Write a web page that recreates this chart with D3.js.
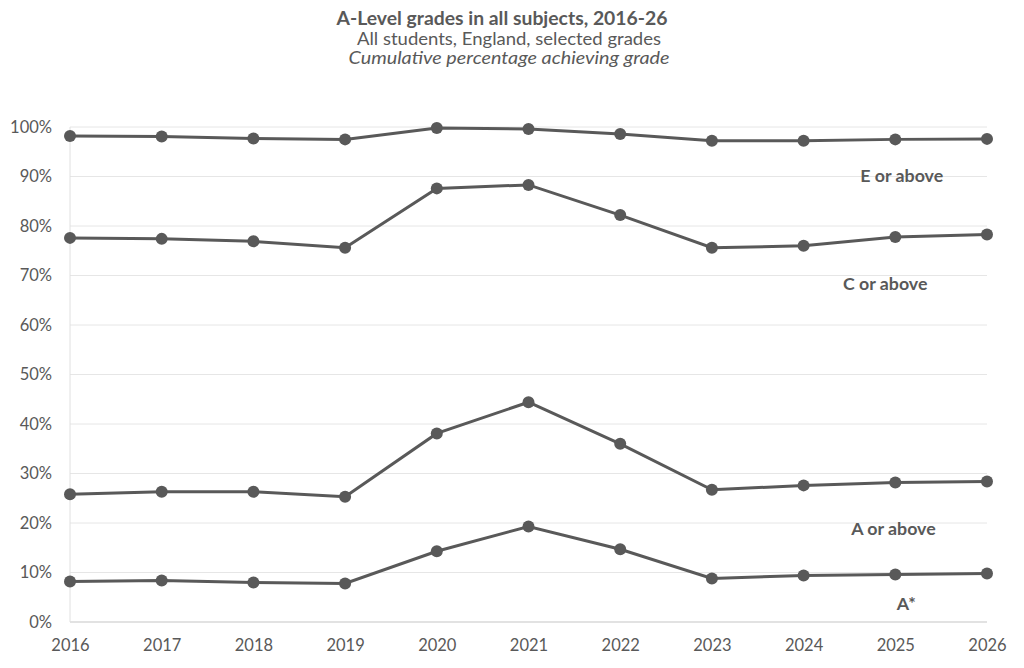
<!DOCTYPE html>
<html>
<head>
<meta charset="utf-8">
<script src="https://cdn.jsdelivr.net/npm/d3@7"></script>
<style>
  body { margin: 0; background: #fff; }
  text { font-family: Lato, "Open Sans", sans-serif; fill: #595959; }
</style>
</head>
<body>
<div id="chart"></div>
<script>
const years = [2016, 2017, 2018, 2019, 2020, 2021, 2022, 2023, 2024, 2025, 2026];
const eOrAbove = [98.2, 98.1, 97.7, 97.5, 99.8, 99.6, 98.6, 97.2, 97.2, 97.5, 97.6];
const cOrAbove = [77.6, 77.4, 76.9, 75.6, 87.6, 88.3, 82.2, 75.6, 76.0, 77.8, 78.3];
const aOrAbove = [25.8, 26.3, 26.3, 25.3, 38.1, 44.4, 36.0, 26.7, 27.6, 28.2, 28.4];
const aStar = [8.2, 8.4, 8.0, 7.8, 14.3, 19.3, 14.7, 8.8, 9.4, 9.6, 9.8];
const yTicks = [0, 10, 20, 30, 40, 50, 60, 70, 80, 90, 100];

const series = [
  { name: 'E or above', values: eOrAbove, labelAt: [2025.07, 90.4] },
  { name: 'C or above', values: cOrAbove, labelAt: [2024.89, 68.5] },
  { name: 'A or above', values: aOrAbove, labelAt: [2024.98, 18.9] },
  { name: 'A*', values: aStar, labelAt: [2025.12, 3.8] }
];

const width = 1024;
const height = 668;
const margin = { top: 127, right: 37, bottom: 46, left: 70 };
const color = '#595959';

const svg = d3.select('#chart')
  .append('svg')
  .attr('width', width)
  .attr('height', height);

const x = d3.scaleLinear()
  .domain([2016, 2026])
  .range([margin.left, width - margin.right]);

const y = d3.scaleLinear()
  .domain([0, 100])
  .range([height - margin.bottom, margin.top]);

// gridlines
svg.append('g')
  .selectAll('line')
  .data(yTicks)
  .join('line')
    .attr('x1', x(2016))
    .attr('x2', x(2026))
    .attr('y1', d => y(d))
    .attr('y2', d => y(d))
    .attr('stroke', d => d === 0 ? '#d9d9d9' : '#e6e6e6')
    .attr('stroke-width', d => d === 0 ? 1.5 : 1);

// left axis line
svg.append('line')
  .attr('x1', x(2016)).attr('x2', x(2016))
  .attr('y1', y(0)).attr('y2', y(100))
  .attr('stroke', '#e0e0e0');

// y labels
svg.append('g')
  .attr('transform', `translate(${margin.left},0)`)
  .call(d3.axisLeft(y).tickValues(yTicks).tickFormat(d => d + '%').tickSize(0).tickPadding(18))
  .call(g => g.select('.domain').remove())
  .selectAll('text')
    .attr('font-size', '16.5px')
    .attr('fill', color);

// x labels
svg.append('g')
  .attr('transform', `translate(0,${y(0)})`)
  .call(d3.axisBottom(x).tickValues(years).tickFormat(d3.format('d')).tickSize(0).tickPadding(17))
  .call(g => g.select('.domain').remove())
  .selectAll('text')
    .attr('font-size', '16.5px')
    .attr('fill', color);

const line = d3.line()
  .x((d, i) => x(years[i]))
  .y(d => y(d));

const groups = svg.append('g')
  .selectAll('g')
  .data(series)
  .join('g');

groups.append('path')
  .attr('d', d => line(d.values))
  .attr('fill', 'none')
  .attr('stroke', color)
  .attr('stroke-width', 3);

groups.selectAll('circle')
  .data(d => d.values)
  .join('circle')
    .attr('cx', (d, i) => x(years[i]))
    .attr('cy', d => y(d))
    .attr('r', 6)
    .attr('fill', color);

groups.append('text')
  .attr('x', d => x(d.labelAt[0]))
  .attr('y', d => y(d.labelAt[1]))
  .attr('text-anchor', 'middle')
  .attr('dominant-baseline', 'central')
  .attr('font-size', '17.8px')
  .attr('font-weight', 'bold')
  .text(d => d.name);

// titles
svg.append('text')
  .attr('x', 502).attr('y', 25)
  .attr('text-anchor', 'middle')
  .attr('font-size', '19px')
  .attr('font-weight', 'bold')
  .attr('textLength', 331)
  .attr('lengthAdjust', 'spacingAndGlyphs')
  .text('A-Level grades in all subjects, 2016-26');

svg.append('text')
  .attr('x', 509).attr('y', 45)
  .attr('text-anchor', 'middle')
  .attr('font-size', '16.5px')
  .attr('textLength', 304)
  .attr('lengthAdjust', 'spacingAndGlyphs')
  .text('All students, England, selected grades');

svg.append('text')
  .attr('x', 509).attr('y', 64)
  .attr('text-anchor', 'middle')
  .attr('font-size', '16.5px')
  .attr('font-style', 'italic')
  .attr('textLength', 321)
  .attr('lengthAdjust', 'spacingAndGlyphs')
  .text('Cumulative percentage achieving grade');
</script>
</body>
</html>
